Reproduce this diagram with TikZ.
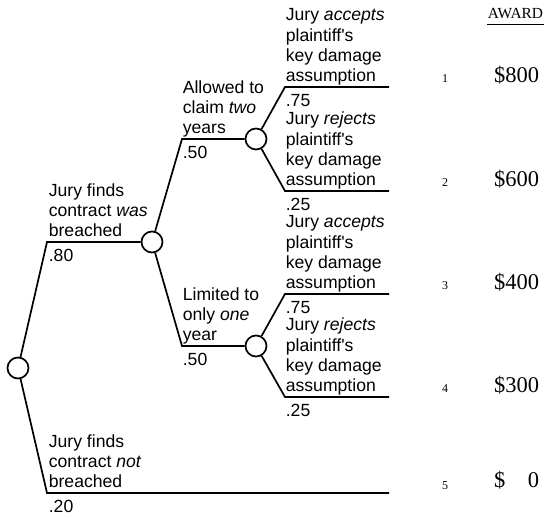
\documentclass[tikz,border=0pt]{standalone}
\usepackage{fontspec}
\setmainfont{Liberation Sans}[Ligatures=TeXOff]
\newfontfamily\serifnum{Liberation Serif}
\newcommand\mlines[1]{\vbox{\baselineskip=20.2pt\lineskiplimit=-30pt\lineskip=0pt #1}}
\begin{document}
\begin{tikzpicture}[x=1pt,y=-1pt,line width=1.7pt,
  chance/.style={circle,draw,fill=white,minimum size=21pt,inner sep=0pt,line width=1.7pt},
  lbl/.style={anchor=base west,inner sep=0pt,font=\fontsize{17.6}{20.2}\selectfont},
  idx/.style={anchor=base,inner sep=0pt,font=\serifnum\fontsize{12}{14}\selectfont},
  amt/.style={anchor=base east,inner sep=0pt,font=\serifnum\fontsize{22.5}{26}\selectfont},
  hdr/.style={anchor=base west,inner sep=0pt,font=\serifnum\fontsize{15.4}{18}\selectfont}]
\useasboundingbox (0,0) rectangle (547,518);
% chance nodes
\node[chance] (r) at (18,368) {};
\node[chance] (A) at (152,242) {};
\node[chance] (B) at (256,139) {};
\node[chance] (D) at (256,346) {};
% corners and ends
\coordinate (c1) at (47,242);
\coordinate (c2) at (182,139);
\coordinate (c3) at (182,346);
\coordinate (c4) at (285,87);
\coordinate (c5) at (285,191);
\coordinate (c6) at (285,294);
\coordinate (c7) at (285,397);
\coordinate (c8) at (47,493);
\coordinate (e4) at (389,87);
\coordinate (e5) at (389,191);
\coordinate (e6) at (389,294);
\coordinate (e7) at (389,397);
\coordinate (e8) at (389,493);
% connectors
\draw (r) -- (c1) -- (A);
\draw (r) -- (c8) -- (e8);
\draw (A) -- (c2) -- (B);
\draw (A) -- (c3) -- (D);
\draw (B) -- (c4) -- (e4);
\draw (B) -- (c5) -- (e5);
\draw (D) -- (c6) -- (e6);
\draw (D) -- (c7) -- (e7);
% branch labels
\node[lbl] (t1) at (48,236.5) {\mlines{\hbox{Jury finds}\hbox{contract \textit{was}}\hbox{breached}}};
\node[lbl] (p1) at (48,261.5) {.80};
\node[lbl] (t2) at (182,133.5) {\mlines{\hbox{Allowed to}\hbox{claim \textit{two}}\hbox{years}}};
\node[lbl] (p2) at (182,158.5) {.50};
\node[lbl] (t3) at (182,340.5) {\mlines{\hbox{Limited to}\hbox{only \textit{one}}\hbox{year}}};
\node[lbl] (p3) at (182,365.5) {.50};
\node[lbl] (t4) at (285,81.5) {\mlines{\hbox{Jury \textit{accepts}}\hbox{plaintiff's}\hbox{key damage}\hbox{assumption}}};
\node[lbl] (p4) at (285,106.5) {.75};
\node[lbl] (t5) at (285,185.5) {\mlines{\hbox{Jury \textit{rejects}}\hbox{plaintiff's}\hbox{key damage}\hbox{assumption}}};
\node[lbl] (p5) at (285,210.5) {.25};
\node[lbl] (t6) at (285,288.5) {\mlines{\hbox{Jury \textit{accepts}}\hbox{plaintiff's}\hbox{key damage}\hbox{assumption}}};
\node[lbl] (p6) at (285,313.5) {.75};
\node[lbl] (t7) at (285,391.5) {\mlines{\hbox{Jury \textit{rejects}}\hbox{plaintiff's}\hbox{key damage}\hbox{assumption}}};
\node[lbl] (p7) at (285,416.5) {.25};
\node[lbl] (t8) at (48,487.5) {\mlines{\hbox{Jury finds}\hbox{contract \textit{not}}\hbox{breached}}};
\node[lbl] (p8) at (48,512.5) {.20};
% award column
\node[hdr] (aw) at (487,19) {AWARD};
\draw[line width=1pt] ([yshift=-6pt]aw.base west) -- ([yshift=-6pt]aw.base east);
\node[idx] (n1) at (445,83) {1};
\node[amt] (a1) at (540,83) {\$800};
\node[idx] (n2) at (445,187) {2};
\node[amt] (a2) at (540,187) {\$600};
\node[idx] (n3) at (445,290) {3};
\node[amt] (a3) at (540,290) {\$400};
\node[idx] (n4) at (445,393) {4};
\node[amt] (a4) at (540,393) {\$300};
\node[idx] (n5) at (445,490) {5};
\node[amt] (a5) at (540,488) {\$\phantom{00}0};
\end{tikzpicture}
\end{document}
